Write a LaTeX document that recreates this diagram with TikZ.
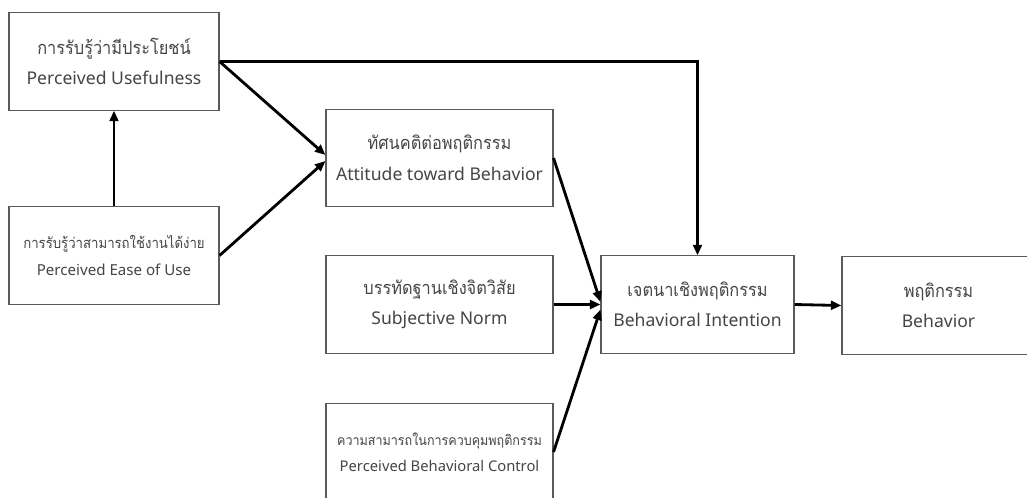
\documentclass[tikz,border=0pt]{standalone}
\usepackage{fontspec}
\usepackage{graphicx}
\setmainfont{Noto Sans}
\newfontfamily\thaifont[Script=Thai]{Loma}
\usetikzlibrary{arrows.meta}

\definecolor{boxline}{HTML}{5A5A5A}
\definecolor{txt}{HTML}{454545}

% Thai line at a given size, slightly condensed, keeping the box's line spacing
\newcommand{\thaiat}[2]{\scalebox{0.9}[1]{\thaifont\fontsize{#1}{\baselineskip}\selectfont #2}}

\tikzset{
  box/.style={draw=boxline, line width=0.9pt, fill=white, align=center,
    text=txt, inner sep=2pt, minimum height=2.92cm,
    font=\fontsize{15}{26}\selectfont},
  smallbox/.style={box, font=\fontsize{12.9}{23}\selectfont},
  link/.style={line width=2.4pt, -{Triangle[length=9pt,width=7.5pt]}}
}

\begin{document}
\begin{tikzpicture}[x=0.03cm, y=-0.03cm]
  \useasboundingbox (0,0) rectangle (1027,497);

  % constructs
  \node[box, minimum width=6.3cm] (pu) at (114,61.5)
    {\thaiat{15.5}{การรับรู้ว่ามีประโยชน์}\\Perceived Usefulness};
  \node[smallbox, minimum width=6.3cm] (peu) at (114,255.5)
    {\thaiat{12.5}{การรับรู้ว่าสามารถใช้งานได้ง่าย}\\Perceived Ease of Use};
  \node[box, minimum width=6.81cm] (atb) at (439.5,158)
    {\thaiat{15.5}{ทัศนคติต่อพฤติกรรม}\\Attitude toward Behavior};
  \node[box, minimum width=6.81cm] (sn) at (439.5,304.5)
    {\thaiat{15.5}{บรรทัดฐานเชิงจิตวิสัย}\\Subjective Norm};
  \node[smallbox, minimum width=6.81cm, font=\fontsize{12.6}{22}\selectfont] (pbc) at (439.5,452)
    {\thaiat{11.9}{ความสามารถในการควบคุมพฤติกรรม}\\Perceived Behavioral Control};
  \node[box, minimum width=5.79cm] (bi) at (697.5,304.5)
    {\thaiat{15.5}{เจตนาเชิงพฤติกรรม}\\Behavioral Intention};
  \node[box, minimum width=5.79cm] (b) at (938.5,305.5)
    {\thaiat{15.5}{พฤติกรรม}\\Behavior};

  % paths of influence
  \draw[link] (peu.north) -- (pu.south);
  \draw[link] (pu.east) -| (bi.north);
  \draw[link] (pu.east) -- ([yshift=0.09cm]atb.west);
  \draw[link] (peu.east) -- ([yshift=-0.09cm]atb.west);
  \draw[link] (atb.east) -- ([yshift=0.08cm]bi.west);
  \draw[link] (sn.east) -- (bi.west);
  \draw[link] (pbc.east) -- ([yshift=-0.15cm]bi.west);
  \draw[link] (bi.east) -- (b.west);
\end{tikzpicture}
\end{document}
